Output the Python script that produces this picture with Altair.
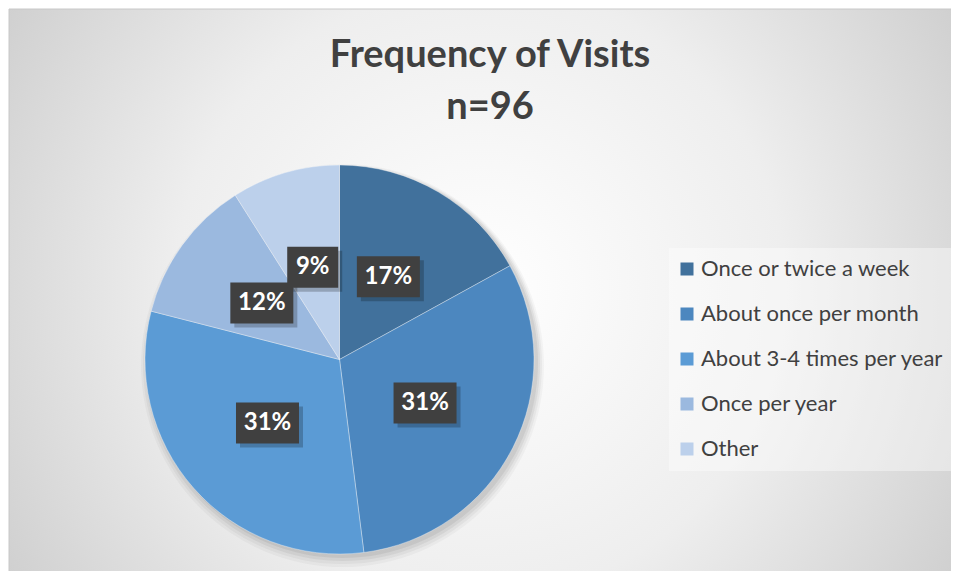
import altair as alt
import pandas as pd

# ---- data ----
categories = ["Once or twice a week", "About once per month", "About 3-4 times per year", "Once per year", "Other"]
values = [17, 31, 31, 12, 9]
labels = ["17%", "31%", "31%", "12%", "9%"]
colors = ["#41719C", "#4C87BF", "#5B9BD5", "#9BB9DF", "#BCD0EB"]
title_lines = ["Frequency of Visits", "n=96"]

# ---- layout ----
W, H = 943, 563
CX, CY, R, LR = 330.5, 350.5, 194.5, 96
FONT = "Lato"

df = pd.DataFrame({"category": categories, "value": values, "label": labels,
                   "order": list(range(len(categories)))})
one = pd.DataFrame({"k": [0]})

bg = alt.Chart(one).mark_rect(
    fill={"gradient": "radial", "x1": 0.5, "y1": 0.5, "r1": 0, "x2": 0.5, "y2": 0.5, "r2": 0.72,
          "stops": [{"offset": 0, "color": "#ffffff"}, {"offset": 0.45, "color": "#eeeeee"},
                    {"offset": 1, "color": "#c0c0c0"}]},
    stroke="#c8c8c8", strokeWidth=1,
).encode(x=alt.value(0), x2=alt.value(W), y=alt.value(0), y2=alt.value(H))

legend_box = alt.Chart(one).mark_rect(fill="white", opacity=0.4).encode(
    x=alt.value(660), x2=alt.value(945), y=alt.value(239), y2=alt.value(462))

shadows = [
    alt.Chart(one).mark_arc(theta=0, theta2=6.2832, fill="black", opacity=op).encode(
        x=alt.value(CX + 3), y=alt.value(CY + dy), radius=alt.value(R + dr))
    for dy, dr, op in [(6, 7, 0.03), (5, 5, 0.04), (4, 3, 0.05), (3, 1, 0.06)]
]

base = alt.Chart(df)

pie = base.mark_arc(stroke="white", strokeWidth=0.7, strokeOpacity=0.5).encode(
    theta=alt.Theta("value:Q", stack=True),
    color=alt.Color("category:N", sort=categories,
                    scale=alt.Scale(domain=categories, range=colors),
                    legend=alt.Legend(title=None, orient="none", legendX=656, legendY=238,
                                      padding=11,
                                      rowPadding=23, symbolType="square", symbolSize=169,
                                      symbolStrokeWidth=0, labelFontSize=22, labelFont=FONT,
                                      labelColor="#404040", labelLimit=400, labelOffset=3)),
    order=alt.Order("order:Q"),
    x=alt.value(CX), y=alt.value(CY), radius=alt.value(R),
)

lab = base.transform_window(
    cum="sum(value)", sort=[alt.SortField("order")], frame=[None, 0]
).transform_joinaggregate(total="sum(value)").transform_calculate(
    ang="2*PI*(datum.cum - datum.value/2)/datum.total",
    lx=f"{CX} + {LR}*sin(datum.ang)",
    ly=f"{CY} - {LR}*cos(datum.ang)",
    hw="6*length(datum.label) + 13.5",
).transform_calculate(
    bx1="datum.lx - datum.hw", bx2="datum.lx + datum.hw",
    by1="datum.ly - 20.5", by2="datum.ly + 20.5",
    sx1="datum.lx - datum.hw + 4", sx2="datum.lx + datum.hw + 4",
    sy1="datum.ly - 16.5", sy2="datum.ly + 24.5",
)

box_shadow = lab.mark_rect(fill="black", opacity=0.22).encode(
    x=alt.X("sx1:Q", scale=None, axis=None), x2="sx2:Q",
    y=alt.Y("sy1:Q", scale=None, axis=None), y2="sy2:Q")
boxes = lab.mark_rect(fill="#404040").encode(
    x=alt.X("bx1:Q", scale=None, axis=None), x2="bx2:Q",
    y=alt.Y("by1:Q", scale=None, axis=None), y2="by2:Q")
texts = lab.mark_text(color="white", fontWeight="bold", fontSize=24, font=FONT,
                      align="center", baseline="middle").encode(
    x=alt.X("lx:Q", scale=None, axis=None), y=alt.Y("ly:Q", scale=None, axis=None),
    text="label:N")

t1 = alt.Chart(one).mark_text(fontSize=38, fontWeight="bold", font=FONT, color="#404040",
                              align="center", baseline="middle").encode(
    x=alt.value(481), y=alt.value(47), text=alt.value(title_lines[0]))
t2 = alt.Chart(one).mark_text(fontSize=38, fontWeight="bold", font=FONT, color="#404040",
                              align="center", baseline="middle").encode(
    x=alt.value(481), y=alt.value(99), text=alt.value(title_lines[1]))

chart = alt.layer(bg, legend_box, *shadows, pie, box_shadow, boxes, texts, t1, t2).properties(
    width=W, height=H, padding=0, background="white",
    autosize=alt.AutoSizeParams(type="fit", contains="padding"),
).configure_view(stroke=None)

chart.save("out.html", embed_options={"renderer": "svg", "actions": False})
